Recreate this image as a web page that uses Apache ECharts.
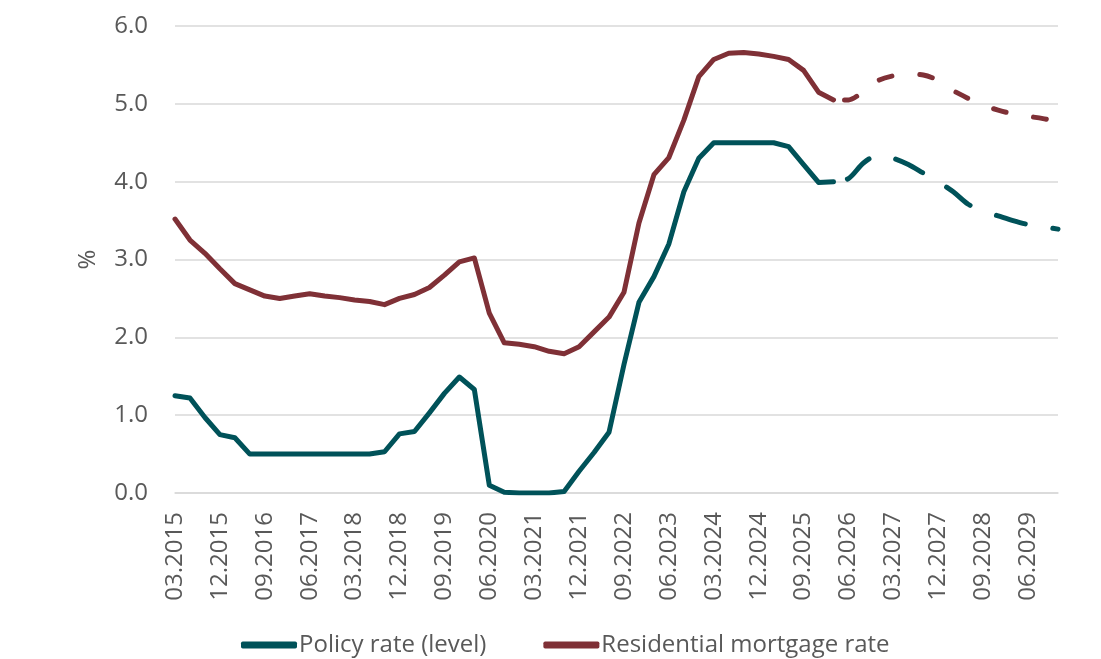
<!DOCTYPE html>
<html>
<head>
<meta charset="utf-8">
<script src="https://cdn.jsdelivr.net/npm/echarts@6/dist/echarts.min.js"></script>
<style>
    html, body { margin: 0; padding: 0; background: #fff; }
    #chart { width: 1101px; height: 659px; }
</style>
</head>
<body>
<div id="chart"></div>
<script>
// quarterly labels 03.2015 - 12.2029
var quarters = [];
for (var y = 2015; y <= 2029; y++) {
    ['03', '06', '09', '12'].forEach(function(m) {
        quarters.push(m + '.' + y);
    });
}

// last actual point, forecast starts after it
var splitIndex = 44;

var policyRate = [
    1.25, 1.22, 0.97, 0.75, 0.71, 0.50, 0.50, 0.50, 0.50, 0.50,
    0.50, 0.50, 0.50, 0.50, 0.53, 0.76, 0.79, 1.03, 1.28, 1.49,
    1.33, 0.10, 0.01, 0.00, 0.00, 0.00, 0.02, 0.28, 0.52, 0.78,
    1.65, 2.45, 2.78, 3.20, 3.87, 4.30, 4.50, 4.50, 4.50, 4.50,
    4.50, 4.45, 4.22, 3.99, 4.00, 4.04, 4.24, 4.34, 4.30, 4.22,
    4.11, 4.00, 3.87, 3.71, 3.62, 3.56, 3.50, 3.45, 3.42, 3.39
];

var mortgageRate = [
    3.52, 3.25, 3.08, 2.88, 2.69, 2.61, 2.53, 2.50, 2.53, 2.56,
    2.53, 2.51, 2.48, 2.46, 2.42, 2.50, 2.55, 2.64, 2.80, 2.97,
    3.02, 2.31, 1.93, 1.91, 1.88, 1.82, 1.79, 1.88, 2.07, 2.26,
    2.58, 3.47, 4.09, 4.31, 4.79, 5.35, 5.57, 5.65, 5.66, 5.64,
    5.61, 5.57, 5.43, 5.15, 5.05, 5.05, 5.16, 5.30, 5.36, 5.38,
    5.37, 5.30, 5.17, 5.07, 4.98, 4.92, 4.87, 4.84, 4.81, 4.77
];

var policyName = 'Policy rate (level)';
var mortgageName = 'Residential mortgage rate';
var tealColor = '#005259';
var redColor = '#7f3036';
var textColor = '#595959';
var fontName = 'Open Sans';

function actual(data) {
    return data.map(function(v, i) {
        return i <= splitIndex ? v : null;
    });
}

function forecast(data) {
    return data.map(function(v, i) {
        return i >= splitIndex ? v : null;
    });
}

var myChart = echarts.init(document.getElementById('chart'));

var option = {
    backgroundColor: '#fff',
    animation: false,
    textStyle: {
        fontFamily: fontName
    },
    grid: {
        left: 175,
        right: 43,
        top: 26,
        bottom: 166,
        containLabel: false,
        outerBoundsMode: 'none'
    },
    legend: {
        data: [policyName, mortgageName],
        top: 628,
        left: 236,
        icon: 'roundRect',
        itemWidth: 56,
        itemHeight: 7,
        itemGap: 57,
        textStyle: {
            fontFamily: fontName,
            fontSize: 24,
            color: textColor,
            padding: [0, 0, 0, -3]
        }
    },
    xAxis: {
        type: 'category',
        boundaryGap: false,
        data: quarters,
        axisLine: {
            lineStyle: {
                color: '#d9d9d9',
                width: 1.5
            }
        },
        axisTick: {
            show: false
        },
        axisLabel: {
            interval: 2,
            rotate: 90,
            margin: 19,
            fontSize: 24,
            fontFamily: fontName,
            color: textColor
        }
    },
    yAxis: {
        type: 'value',
        min: 0,
        max: 6,
        interval: 1,
        name: '%',
        nameLocation: 'middle',
        nameRotate: 90,
        nameGap: 75,
        nameTextStyle: {
            fontSize: 24,
            fontFamily: fontName,
            color: textColor
        },
        axisLine: {
            show: false
        },
        axisTick: {
            show: false
        },
        axisLabel: {
            margin: 27,
            fontSize: 24,
            fontFamily: fontName,
            color: textColor,
            formatter: function(v) {
                return v.toFixed(1);
            }
        },
        splitLine: {
            lineStyle: {
                color: '#d9d9d9',
                width: 1.5
            }
        }
    },
    series: [{
        name: policyName,
        type: 'line',
        showSymbol: false,
        color: tealColor,
        lineStyle: { width: 5, color: tealColor, cap: 'round', join: 'round' },
        data: actual(policyRate)
    }, {
        name: mortgageName,
        type: 'line',
        showSymbol: false,
        color: redColor,
        lineStyle: { width: 5, color: redColor, cap: 'round', join: 'round' },
        data: actual(mortgageRate)
    }, {
        name: policyName,
        type: 'line',
        showSymbol: false,
        smooth: 0.3,
        color: tealColor,
        lineStyle: { width: 5, color: tealColor, cap: 'round', type: [30, 28], dashOffset: 44 },
        data: forecast(policyRate)
    }, {
        name: mortgageName,
        type: 'line',
        showSymbol: false,
        smooth: 0.3,
        color: redColor,
        lineStyle: { width: 5, color: redColor, cap: 'round', type: [13, 28], dashOffset: 30 },
        data: forecast(mortgageRate)
    }]
};

myChart.setOption(option);
</script>
</body>
</html>
